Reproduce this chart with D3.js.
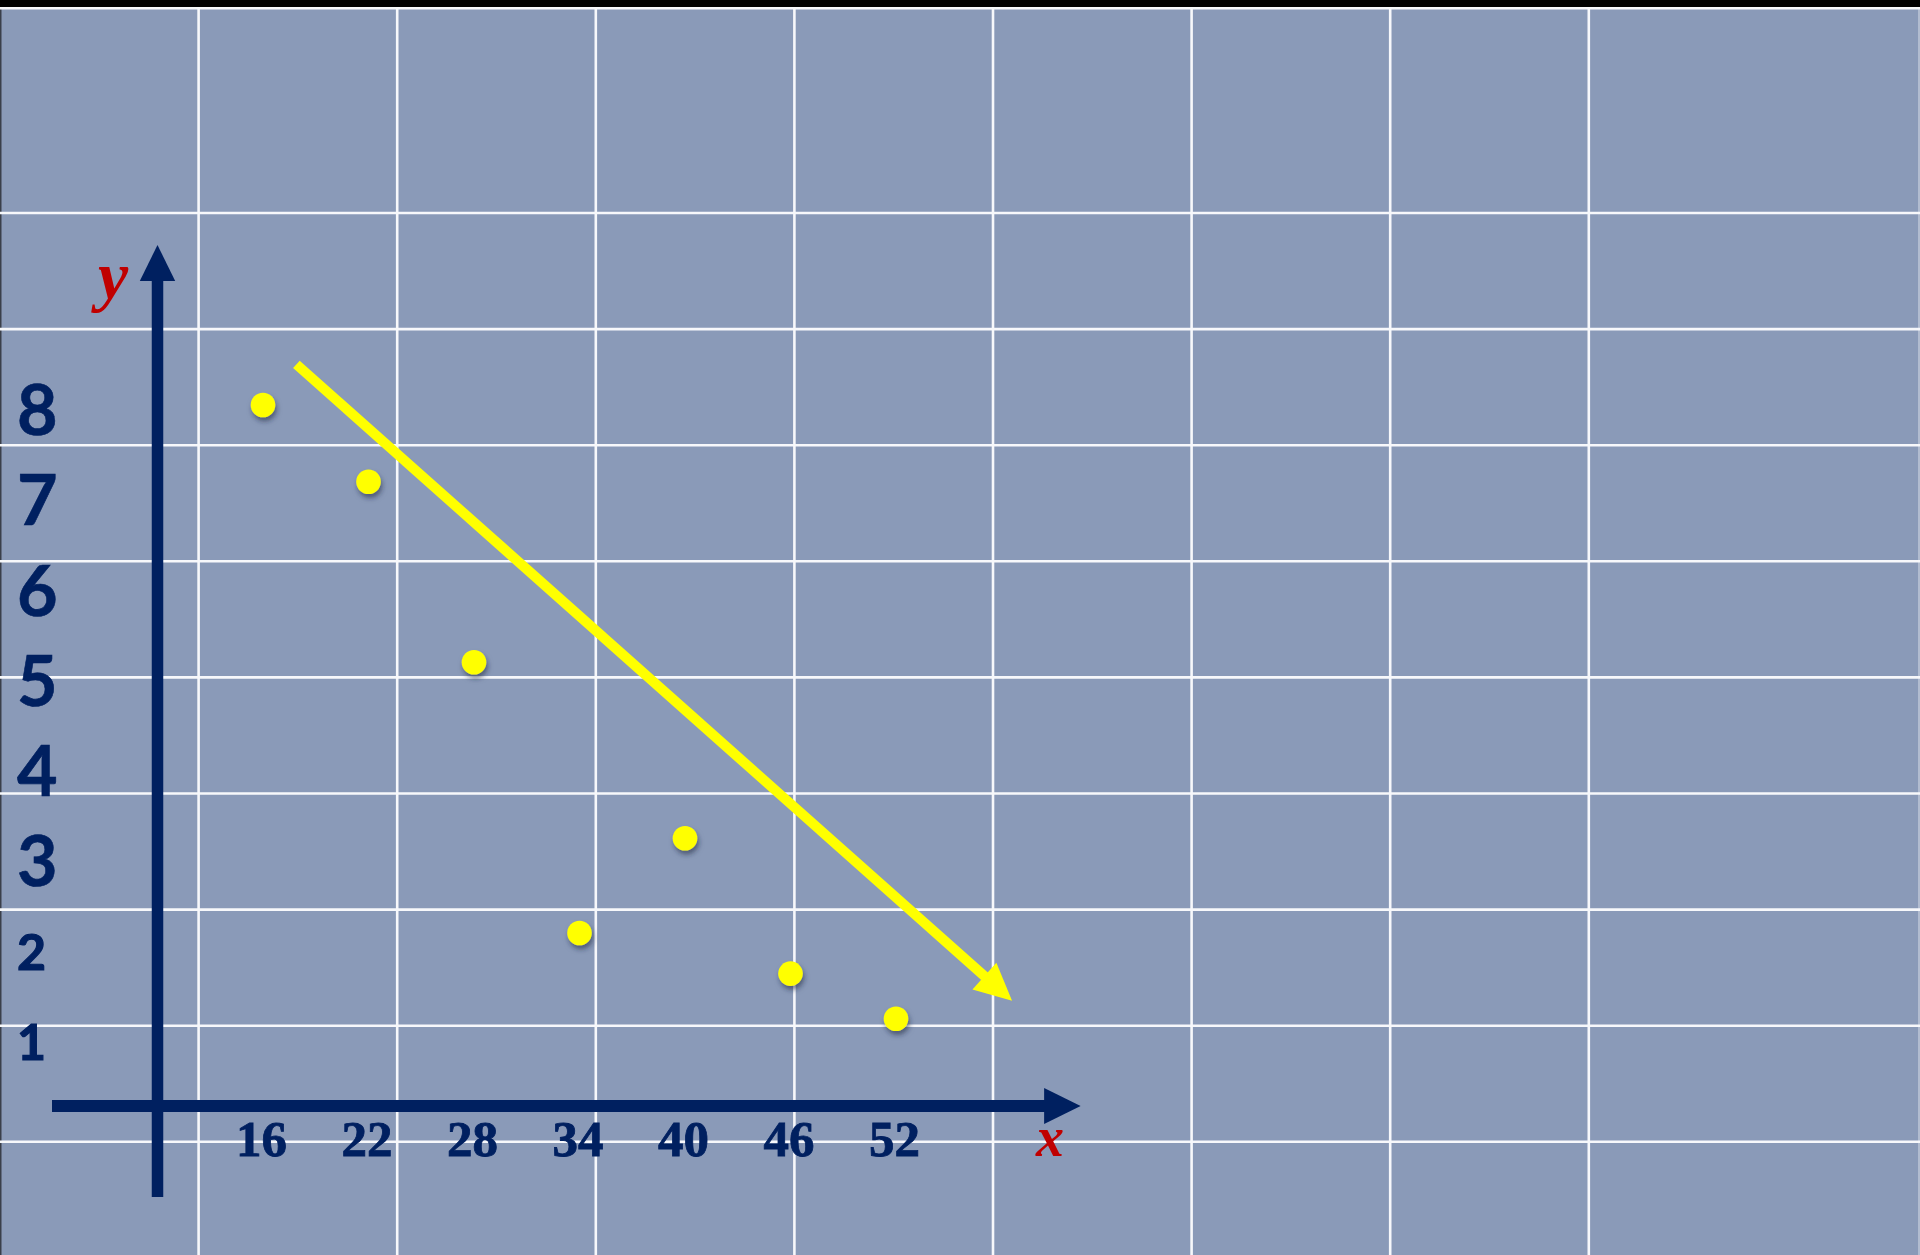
<!DOCTYPE html>
<html>
<head>
<meta charset="utf-8">
<script src="https://cdn.jsdelivr.net/npm/d3@7"></script>
<style>
  html, body { margin: 0; padding: 0; background: #000; }
  svg { display: block; }
</style>
</head>
<body>
<svg id="chart" width="1920" height="1255"></svg>
<script>
// ---------- data ----------
const xValues = [16, 22, 28, 34, 40, 46, 52];
const yValues = [8.05, 7.2, 5.2, 2.2, 3.25, 1.75, 1.25];
const xTickLabels = [16, 22, 28, 34, 40, 46, 52];
const yTickLabels = [1, 2, 3, 4, 5, 6, 7, 8];
const trendStart = [17.9, 8.5];
const trendEnd = [58.6, 1.45];
const xAxisName = "x";
const yAxisName = "y";

// ---------- layout ----------
const W = 1920, H = 1255;
const navy = "#002060";
const svg = d3.select("#chart");

const x = d3.scaleLinear().domain([16, 52]).range([263, 896]);
const y = d3.scaleLinear().domain([1, 8]).range([1041.3, 409.5]);

// axis geometry (pixels)
const yAxisX = x(10);
const xAxisY = 1106;
const xAxisLeft = x(4);
const xAxisTip = x(62.5);
const yAxisTop = 245;
const yAxisBottom = 1197;

// background
svg.append("rect").attr("width", W).attr("height", H).attr("fill", "#000");
svg.append("rect").attr("x", 0).attr("y", 7).attr("width", W).attr("height", H - 7).attr("fill", "#8a9ab8");
svg.append("rect").attr("x", 0).attr("y", 7).attr("width", 1.5).attr("height", H - 7).attr("fill", "#3a3f4a");

// grid
const gridV = d3.range(1, 9).map(i => i * 198.6);
const gridH = [8.3].concat(d3.range(0, 9).map(i => 213 + i * 116.1));
const grid = svg.append("g").attr("stroke", "#f7f8fb").attr("stroke-width", 2.6);
grid.selectAll("line.v").data(gridV).join("line")
  .attr("x1", d => d).attr("x2", d => d).attr("y1", 7).attr("y2", H);
grid.selectAll("line.h").data(gridH).join("line")
  .attr("x1", 0).attr("x2", W).attr("y1", d => d).attr("y2", d => d);
grid.append("line").attr("x1", 1919).attr("x2", 1919).attr("y1", 7).attr("y2", H).attr("stroke-width", 1.2).attr("opacity", 0.6);

// defs
const defs = svg.append("defs");
const f = defs.append("filter").attr("id", "shadow").attr("x", "-50%").attr("y", "-50%").attr("width", "200%").attr("height", "200%");
f.append("feDropShadow").attr("dx", 1.5).attr("dy", 4).attr("stdDeviation", 2.5)
  .attr("flood-color", "#1a2540").attr("flood-opacity", 0.55);

// axes (arrows)
const axes = svg.append("g").attr("fill", navy).attr("stroke", navy);
axes.append("line")
  .attr("x1", yAxisX).attr("x2", yAxisX).attr("y1", yAxisBottom).attr("y2", yAxisTop + 30)
  .attr("stroke-width", 11.5);
axes.append("path").attr("stroke", "none")
  .attr("d", `M${yAxisX},${yAxisTop} L${yAxisX - 17.7},${yAxisTop + 36} L${yAxisX + 17.7},${yAxisTop + 36} Z`);
axes.append("line")
  .attr("x1", xAxisLeft).attr("x2", xAxisTip - 30).attr("y1", xAxisY).attr("y2", xAxisY)
  .attr("stroke-width", 12);
axes.append("path").attr("stroke", "none")
  .attr("d", `M${xAxisTip},${xAxisY} L${xAxisTip - 36.5},${xAxisY - 18} L${xAxisTip - 36.5},${xAxisY + 18} Z`);

// x tick labels via d3 axis
const gx = svg.append("g").attr("transform", `translate(-2,${xAxisY})`)
  .call(d3.axisBottom(x).tickValues(xTickLabels).tickSize(0).tickPadding(0).tickFormat(d3.format("d")));
gx.select(".domain").remove();
gx.selectAll("text")
  .attr("y", 50).attr("dy", null)
  .attr("fill", navy)
  .attr("stroke", navy).attr("stroke-width", 0.8)
  .style("font-family", "'Liberation Serif', 'DejaVu Serif', serif")
  .style("font-weight", "bold")
  .style("font-size", "51px");

// y tick labels via d3 axis
const gy = svg.append("g").attr("transform", "translate(0,0)")
  .call(d3.axisLeft(y).tickValues(yTickLabels).tickSize(0).tickFormat(d3.format("d")));
gy.select(".domain").remove();
gy.selectAll("text")
  .attr("x", 17).attr("text-anchor", "start")
  .attr("dy", null)
  .attr("fill", navy)
  .attr("stroke", navy).attr("stroke-width", d => (d <= 2 ? 1.2 : 0.6))
  .style("font-family", "Lato, 'Open Sans', sans-serif")
  .style("font-weight", "bold")
  .style("font-size", d => (d <= 2 ? 50 : 70) + "px")
  .attr("y", d => (d <= 2 ? 18 : 25));

// axis names
svg.append("text").text(yAxisName)
  .attr("x", 113).attr("y", 299).attr("text-anchor", "middle")
  .attr("fill", "#c00000")
  .style("font-family", "'Liberation Serif', serif").style("font-style", "italic").style("font-weight", "bold")
  .style("font-size", "68px");
svg.append("text").text(xAxisName)
  .attr("x", 1050).attr("y", 1156).attr("text-anchor", "middle")
  .attr("fill", "#c00000")
  .style("font-family", "'Liberation Serif', serif").style("font-style", "italic").style("font-weight", "bold")
  .style("font-size", "56px");

// trend arrow
const x0 = x(trendStart[0]), y0 = y(trendStart[1]);
const x1 = x(trendEnd[0]), y1 = y(trendEnd[1]);
const ang = Math.atan2(y1 - y0, x1 - x0);
const headLen = 37, headHalf = 18;
const bx = x1 - headLen * Math.cos(ang), by = y1 - headLen * Math.sin(ang);
svg.append("line")
  .attr("x1", x0).attr("y1", y0)
  .attr("x2", bx + 4 * Math.cos(ang)).attr("y2", by + 4 * Math.sin(ang))
  .attr("stroke", "#ffff00").attr("stroke-width", 10);
svg.append("path")
  .attr("fill", "#ffff00")
  .attr("d", `M${x1},${y1} L${bx - headHalf * Math.sin(ang)},${by + headHalf * Math.cos(ang)} L${bx + headHalf * Math.sin(ang)},${by - headHalf * Math.cos(ang)} Z`);

// points
svg.append("g").selectAll("circle")
  .data(xValues.map((v, i) => [v, yValues[i]]))
  .join("circle")
  .attr("cx", d => x(d[0])).attr("cy", d => y(d[1]))
  .attr("r", 12.3)
  .attr("fill", "#ffff00")
  .attr("filter", "url(#shadow)");
</script>
</body>
</html>
